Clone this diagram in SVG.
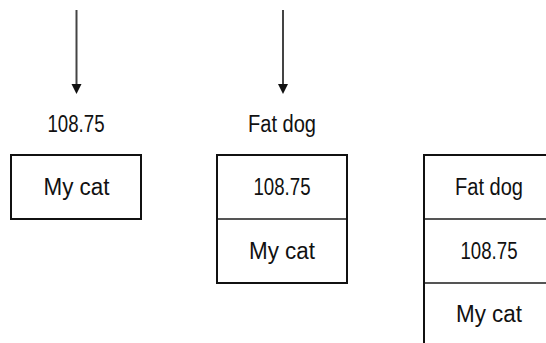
<svg xmlns="http://www.w3.org/2000/svg" width="546" height="343" viewBox="0 0 546 343">
<style>
text{font-family:"Liberation Sans",Arial,sans-serif;font-size:23px;fill:#111;text-anchor:middle}
.box{fill:#fff;stroke:#111;stroke-width:2}
.div{stroke:#555;stroke-width:2}
.conn{stroke:#444;stroke-width:2;fill:none}
.head{fill:#111}
</style>
<rect width="546" height="343" fill="#fff"/>
<g id="connectors">
<line class="conn" x1="76.5" y1="10" x2="76.5" y2="85"/>
<path class="head" d="M71.5,84 L81.5,84 L76.5,94 Z"/>
<line class="conn" x1="283" y1="10" x2="283" y2="85"/>
<path class="head" d="M278,84 L288,84 L283,94 Z"/>
</g>
<g id="label1">
<text x="76" y="132" textLength="57" lengthAdjust="spacingAndGlyphs">108.75</text>
</g>
<g id="label2">
<text x="282" y="132" textLength="68" lengthAdjust="spacingAndGlyphs">Fat dog</text>
</g>
<g id="stack1">
<rect class="box" x="11" y="155" width="130" height="64"/>
<text x="76.5" y="195" textLength="66" lengthAdjust="spacingAndGlyphs">My cat</text>
</g>
<g id="stack2">
<rect class="box" x="217" y="155" width="130" height="128"/>
<line class="div" x1="218" y1="219" x2="346" y2="219"/>
<text x="282" y="195" textLength="57" lengthAdjust="spacingAndGlyphs">108.75</text>
<text x="282" y="259" textLength="66" lengthAdjust="spacingAndGlyphs">My cat</text>
</g>
<g id="stack3">
<rect class="box" x="424" y="155" width="130" height="200"/>
<line class="div" x1="425" y1="219" x2="553" y2="219"/>
<line class="div" x1="425" y1="283" x2="553" y2="283"/>
<text x="489" y="195" textLength="68" lengthAdjust="spacingAndGlyphs">Fat dog</text>
<text x="489" y="259" textLength="57" lengthAdjust="spacingAndGlyphs">108.75</text>
<text x="489" y="322" textLength="66" lengthAdjust="spacingAndGlyphs">My cat</text>
</g>
</svg>
